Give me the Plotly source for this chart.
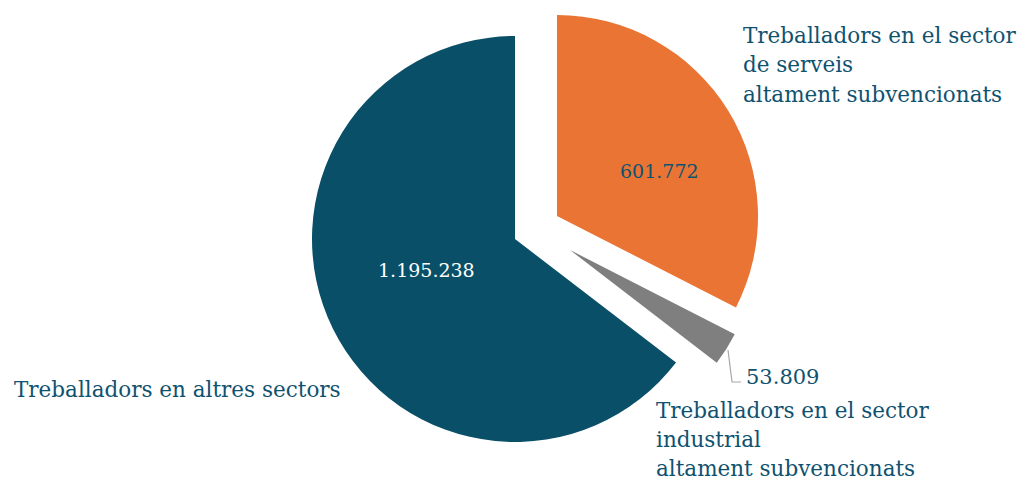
import plotly.graph_objects as go

# ---- data ----
categories = [
    "Treballadors en el sector de serveis altament subvencionats",
    "Treballadors en el sector industrial altament subvencionats",
    "Treballadors en altres sectors",
]
values = [601772, 53809, 1195238]
label_lines = [
    ["Treballadors en el sector", "de serveis", "altament subvencionats"],
    ["Treballadors en el sector", "industrial", "altament subvencionats"],
    ["Treballadors en altres sectors"],
]

# ---- styles ----
W, H = 1022, 484
colors = ["#E97434", "#7F7F7F", "#0A4F68"]
text_color = "#0F5270"
FONT = "Georgia, 'DejaVu Serif', serif"

# each slice drawn in its own trace (same angles) so it can be offset like the original
# (center_x_px, center_y_px, radius_px)
geom = [(557, 216, 201), (570, 250, 185), (515, 239, 203)]


def fmt(v):
    return f"{v:,}".replace(",", ".")


def domain(cx, cy, r):
    return dict(x=[(cx - r) / W, (cx + r) / W], y=[1 - (cy + r) / H, 1 - (cy - r) / H])


fig = go.Figure()
for i, (cx, cy, r) in enumerate(geom):
    cols = ["rgba(0,0,0,0)"] * len(values)
    cols[i] = colors[i]
    fig.add_trace(go.Pie(
        labels=categories, values=values, sort=False, direction="clockwise",
        rotation=0, marker=dict(colors=cols, line=dict(width=0)),
        textinfo="none", hoverinfo="none", domain=domain(cx, cy, r),
        showlegend=False,
    ))

ann = []
# value labels
value_pos = [(659, 171, 19, text_color, "center"), (744, 377, 21, text_color, "left"),
             (426, 270, 19, "#FFFFFF", "center")]
for v, (x, y, s, c, xa) in zip(values, value_pos):
    ann.append(dict(x=x / W, y=1 - y / H, xref="paper", yref="paper", text=fmt(v),
                    showarrow=False, xanchor=xa, yanchor="middle",
                    font=dict(family=FONT, size=s, color=c)))

# category labels: (left x, first line centre y, line spacing)
label_pos = [(741, 35, 29.5), (654, 410, 29), (12, 389, 29.5)]
for lines, (x, y0, dy) in zip(label_lines, label_pos):
    for k, line in enumerate(lines):
        ann.append(dict(x=x / W, y=1 - (y0 + k * dy) / H, xref="paper", yref="paper",
                        text=line, showarrow=False, xanchor="left", yanchor="middle",
                        font=dict(family=FONT, size=21.5, color=text_color)))

# connector for the small slice label
pts = [(728, 350), (732, 382), (741, 382)]
path = "M " + " L ".join(f"{x/W} {1 - y/H}" for x, y in pts)
shapes = [dict(type="path", path=path, xref="paper", yref="paper",
               line=dict(color="#A6A6A6", width=1.2))]

fig.update_layout(width=W, height=H, margin=dict(l=0, r=0, t=0, b=0),
                  paper_bgcolor="white", plot_bgcolor="white",
                  annotations=ann, shapes=shapes, showlegend=False)

fig.write_html("out.html", config={"displayModeBar": False},
               post_script="document.body.style.margin='0';")
